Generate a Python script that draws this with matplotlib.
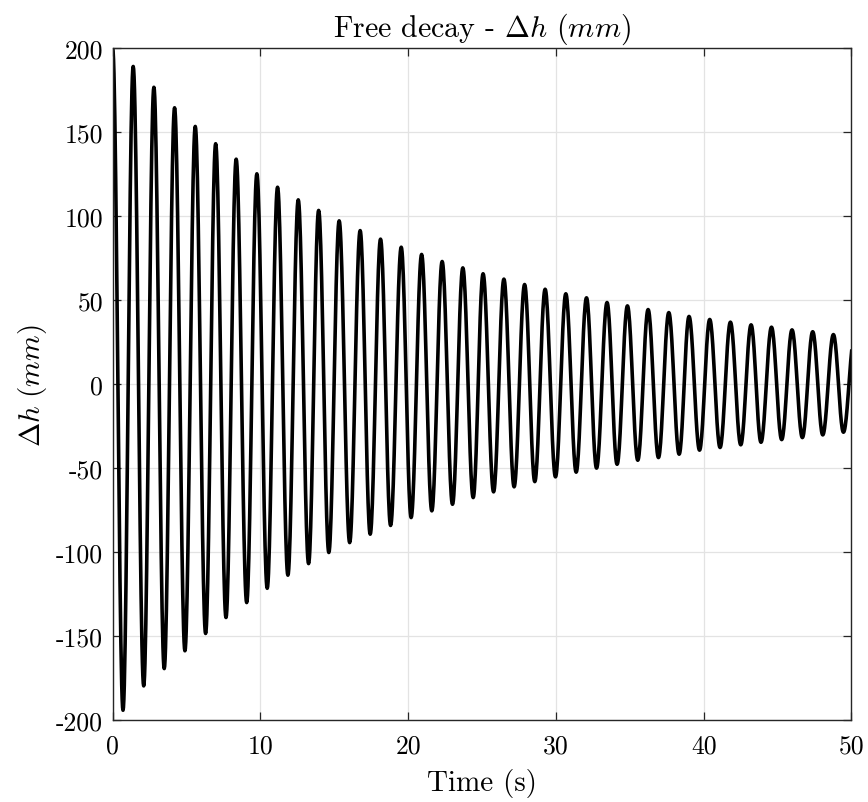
import numpy as np
import matplotlib
matplotlib.use("Agg")
import matplotlib.pyplot as plt

# Extrema of the free-decay record (time in s, value in mm)
ext_t = [0.00, 0.70, 1.39, 2.10, 2.79, 3.49, 4.19, 4.89, 5.59, 6.29, 6.97, 7.67,
         8.36, 9.07, 9.76, 10.46, 11.16, 11.86, 12.56, 13.26, 13.94, 14.63, 15.33,
         16.04, 16.75, 17.43, 18.13, 18.81, 19.53, 20.20, 20.91, 21.60, 22.30,
         23.00, 23.70, 24.40, 25.07, 25.78, 26.48, 27.17, 27.88, 28.57, 29.27,
         29.97, 30.67, 31.37, 32.07, 32.75, 33.46, 34.14, 34.84, 35.54, 36.24,
         36.94, 37.64, 38.34, 39.01, 39.72, 40.41, 41.11, 41.81, 42.51, 43.21,
         43.88, 44.59, 45.28, 45.98, 46.68, 47.38, 48.06, 48.78, 49.46, 50.20]
ext_v = [200.0, -194.0, 189.2, -179.5, 176.8, -169.2, 164.6, -158.6, 153.5, -148.3,
         143.2, -138.8, 134.0, -129.9, 125.3, -121.4, 117.3, -113.6, 109.8, -106.7,
         103.5, -100.1, 97.3, -94.2, 91.5, -89.2, 86.4, -84.0, 81.6, -79.3, 77.3,
         -75.3, 73.1, -71.4, 69.3, -67.4, 65.8, -64.0, 62.6, -61.0, 59.4, -57.9,
         56.6, -55.1, 53.9, -52.3, 51.5, -49.9, 48.7, -47.6, 46.7, -45.2, 44.5,
         -43.6, 42.7, -41.6, 40.4, -39.2, 38.6, -37.6, 37.0, -36.0, 35.4, -34.5,
         34.0, -32.9, 32.4, -31.7, 31.3, -30.1, 29.6, -28.5, 28.0]

x_ticks = [0, 10, 20, 30, 40, 50]
x_labels = ["0", "10", "20", "30", "40", "50"]
y_ticks = [-200, -150, -100, -50, 0, 50, 100, 150, 200]
y_labels = ["-200", "-150", "-100", "-50", "0", "50", "100", "150", "200"]

plt.rcParams["font.family"] = ["cmr10", "DejaVu Serif"]
plt.rcParams["mathtext.fontset"] = "cm"
plt.rcParams["axes.unicode_minus"] = False

# smooth half-cosine rendering between successive extrema
s = np.linspace(0, 1, 25)
tt, vv = [], []
for i in range(len(ext_t) - 1):
    t0, t1 = ext_t[i], ext_t[i + 1]
    v0, v1 = ext_v[i], ext_v[i + 1]
    tt.append(t0 + (t1 - t0) * s[:-1])
    vv.append(v0 + (v1 - v0) * (1 - np.cos(np.pi * s[:-1])) / 2)
tt = np.concatenate(tt)
vv = np.concatenate(vv)

fig = plt.figure(figsize=(8.68, 8.03), dpi=100)
ax = fig.add_axes([0.1298, 0.1017, 0.9809 - 0.1298, 0.9386 - 0.1017])
ax.plot(tt, vv, color="black", lw=2.6, solid_joinstyle="round")
ax.set_xlim(0, 50)
ax.set_ylim(-200, 200)
ax.set_xticks(x_ticks, x_labels)
ax.set_yticks(y_ticks, y_labels)
ax.grid(True, color="#e3e3e3", lw=0.9)
ax.set_axisbelow(True)
for sp in ax.spines.values():
    sp.set_color("#262626")
    sp.set_linewidth(1.0)
ax.tick_params(direction="in", length=6, width=0.9, color="#262626",
               top=True, right=True, labelsize=18.5, labelcolor="black")
ax.tick_params(axis="x", pad=10)
ax.tick_params(axis="y", pad=7)
ax.set_xlabel("Time (s)", fontsize=21, labelpad=7)
ax.set_ylabel(r"$\Delta h\ (mm)$", fontsize=21, labelpad=5)
ax.set_title(r"Free decay - $\Delta h$ $(mm)$", fontsize=21.5, pad=9)

fig.savefig("out.png", dpi=100)
